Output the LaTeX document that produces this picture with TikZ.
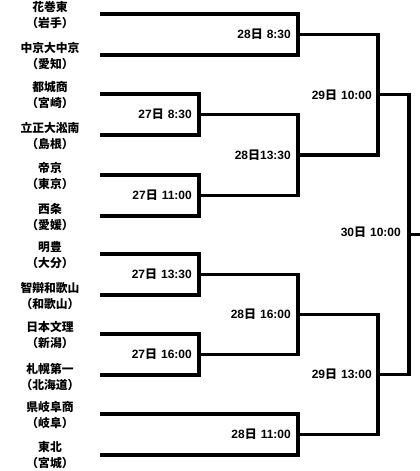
\documentclass[tikz,border=0pt]{standalone}
\usepackage{fontspec}
\setmainfont{Noto Sans CJK JP}
\newfontfamily\lat{Liberation Sans}
\usepackage{tikz}
\usetikzlibrary{positioning,calc}
\newcommand{\dia}[2]{{\lat #1}日\hspace{4pt}{\lat #2}}
\tikzset{
  escuela/.style={align=center, font=\bfseries\fontsize{11.8}{16}\selectfont, inner sep=0pt},
  hora/.style={anchor=east, font=\bfseries\fontsize{12}{13}\selectfont, inner sep=0pt},
  linea/.style={line width=3.2pt},
}
\begin{document}
\begin{tikzpicture}[x=1pt, y=-1pt]
\useasboundingbox (0,0) rectangle (420,471);
% Escuelas
\node[escuela] (e1) at (50,15.5) {花巻東\\（岩手）};
\node[escuela] (e2) at (50,56.5) {中京大中京\\（愛知）};
\node[escuela] (e3) at (50,95.5) {都城商\\（宮崎）};
\node[escuela] (e4) at (50,136.5) {立正大淞南\\（島根）};
\node[escuela] (e5) at (50,176.5) {帝京\\（東京）};
\node[escuela] (e6) at (50,217.5) {西条\\（愛媛）};
\node[escuela] (e7) at (50,255.5) {明豊\\（大分）};
\node[escuela] (e8) at (50,296.5) {智辯和歌山\\（和歌山）};
\node[escuela] (e9) at (50,335.5) {日本文理\\（新潟）};
\node[escuela] (e10) at (50,376.5) {札幌第一\\（北海道）};
\node[escuela] (e11) at (50,415.5) {県岐阜商\\（岐阜）};
\node[escuela] (e12) at (50,455) {東北\\（宮城）};

% Entradas
\foreach \n/\y in {1/14,2/55,3/94,4/135,5/175,6/216,7/254,8/295,9/334,10/375,11/414,12/455}
  \coordinate (t\n) at (100,\y);

% Partidos
\coordinate (p1) at (199,114.5);
\coordinate (p2) at (199,195.5);
\coordinate (p3) at (199,274.5);
\coordinate (p4) at (199,354.5);
\coordinate (c1) at (298,34.5);
\coordinate (c2) at (298,155);
\coordinate (c3) at (298,314.5);
\coordinate (c4) at (298,434.5);
\coordinate (s1) at (378,94.75);
\coordinate (s2) at (378,374.5);
\coordinate (f) at (409,234.6);
\coordinate (fin) at (420,234.6);

% Primera ronda
\draw[linea] (t3) -| (p1) |- (t4);
\draw[linea] (t5) -| (p2) |- (t6);
\draw[linea] (t7) -| (p3) |- (t8);
\draw[linea] (t9) -| (p4) |- (t10);

% Segunda ronda
\draw[linea] (t1) -| (c1) |- (t2);
\draw[linea] (p1) -| (c2) |- (p2);
\draw[linea] (p3) -| (c3) |- (p4);
\draw[linea] (t11) -| (c4) |- (t12);

% Semifinal y final
\draw[linea] (c1) -| (s1) |- (c2);
\draw[linea] (c3) -| (s2) |- (c4);
\draw[linea] (s1) -| (f) |- (s2);
\draw[linea] (f) -- (fin);

% Horas
\node[hora] (h1) at ($(p1)+(-7,0)$) {\dia{27}{8:30}};
\node[hora] (h2) at ($(p2)+(-7,0)$) {\dia{27}{11:00}};
\node[hora] (h3) at ($(p3)+(-7,0)$) {\dia{27}{13:30}};
\node[hora] (h4) at ($(p4)+(-7,0)$) {\dia{27}{16:00}};
\node[hora] (h5) at ($(c1)+(-7,0)$) {\dia{28}{8:30}};
\node[hora] (h6) at ($(c2)+(-7,0)$) {{\lat 28}日{\lat 13:30}};
\node[hora] (h7) at ($(c3)+(-7,0)$) {\dia{28}{16:00}};
\node[hora] (h8) at ($(c4)+(-7,0)$) {\dia{28}{11:00}};
\node[hora] (h9) at ($(s1)+(-6,0)$) {\dia{29}{10:00}};
\node[hora] (h10) at ($(s2)+(-6,0)$) {\dia{29}{13:00}};
\node[hora] (h11) at ($(f)+(-8,-2)$) {\dia{30}{10:00}};
\end{tikzpicture}
\end{document}
